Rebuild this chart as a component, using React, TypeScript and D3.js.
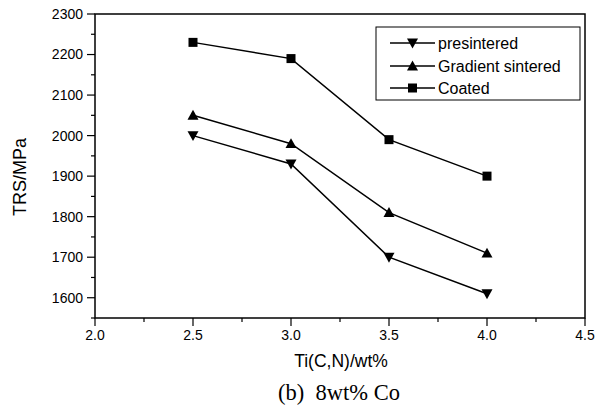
import React from 'react';
import * as d3 from 'd3';

const tiContent = [2.5, 3.0, 3.5, 4.0];
const presintered = [2000, 1930, 1700, 1610];
const gradientSintered = [2050, 1980, 1810, 1710];
const coated = [2230, 2190, 1990, 1900];
const xTicks = [2.0, 2.5, 3.0, 3.5, 4.0, 4.5];
const yTicks = [1600, 1700, 1800, 1900, 2000, 2100, 2200, 2300];

const series = [
    { name: 'presintered', values: presintered, marker: 'down' },
    { name: 'Gradient sintered', values: gradientSintered, marker: 'up' },
    { name: 'Coated', values: coated, marker: 'square' },
];

const width = 600;
const height = 408;
const margin = { top: 14, right: 10, bottom: 89, left: 95 };
const font = 'Arial, "Liberation Sans", sans-serif';

const Marker = ({ type, x, y }: { type: string; x: number; y: number }) => {
    if (type === 'square') {
        return <rect x={x - 4.5} y={y - 4.5} width={9} height={9} fill="#000" />;
    }
    const s = 5.5;
    const pts = type === 'up'
        ? [[x - s, y + s * 0.8], [x + s, y + s * 0.8], [x, y - s * 1.0]]
        : [[x - s, y - s * 0.8], [x + s, y - s * 0.8], [x, y + s * 1.0]];
    return <polygon points={pts.map(p => p.join(',')).join(' ')} fill="#000" />;
};

const App = () => {
    const x = d3.scaleLinear()
        .domain([2.0, 4.5])
        .range([margin.left, width - margin.right - 5]);
    const y = d3.scaleLinear()
        .domain([1550, 2300])
        .range([height - margin.bottom - 1, margin.top]);

    const line = d3.line<number>()
        .x((d, i) => x(tiContent[i]))
        .y(d => y(d));

    const x0 = x.range()[0], x1 = x.range()[1];
    const y0 = y.range()[0], y1 = y.range()[1];

    const xMinor = d3.range(2.0, 4.5001, 0.25);
    const yMinor = d3.range(1550, 2300.1, 50);

    const legendX = 376, legendY = 27;
    const rows = [43, 66, 88];

    return (
        <svg width={width} height={height} style={{ position: 'absolute', left: 0, top: 0, background: '#fff' }}>
            <rect x={0} y={0} width={width} height={height} fill="#fff" />
            {/* frame */}
            <rect x={x0} y={y1} width={x1 - x0} height={y0 - y1} fill="none" stroke="#000" strokeWidth={1.5} />

            {/* y ticks */}
            {yMinor.map(v => (
                <line key={'ym' + v} x1={x0} x2={x0 - (v % 100 === 0 ? 8 : 4)} y1={y(v)} y2={y(v)} stroke="#000" strokeWidth={1.2} />
            ))}
            {yTicks.map(v => (
                <text key={'yl' + v} x={x0 - 12} y={y(v)} dy="0.35em" textAnchor="end" fontFamily={font} fontSize={14}>{v}</text>
            ))}

            {/* x ticks */}
            {xMinor.map(v => {
                const major = Math.abs(v * 2 - Math.round(v * 2)) < 1e-6;
                return <line key={'xm' + v} x1={x(v)} x2={x(v)} y1={y0} y2={y0 + (major ? 8 : 4)} stroke="#000" strokeWidth={1.2} />;
            })}
            {xTicks.map(v => (
                <text key={'xl' + v} x={x(v)} y={y0 + 22} textAnchor="middle" fontFamily={font} fontSize={14}>{v.toFixed(1)}</text>
            ))}

            {/* axis titles */}
            <text x={341} y={367} textAnchor="middle" fontFamily={font} fontSize={17.5}>Ti(C,N)/wt%</text>
            <text transform={`translate(26,177) rotate(-90)`} textAnchor="middle" fontFamily={font} fontSize={18}>TRS/MPa</text>
            <text x={339} y={400} textAnchor="middle" fontFamily='"Liberation Serif", "Times New Roman", serif' fontSize={22.5} xmlSpace="preserve">(b)  8wt% Co</text>

            {/* series */}
            {series.map(s => (
                <g key={s.name}>
                    <path d={line(s.values) || ''} fill="none" stroke="#000" strokeWidth={1.5} />
                    {s.values.map((v, i) => (
                        <Marker key={i} type={s.marker} x={x(tiContent[i])} y={y(v)} />
                    ))}
                </g>
            ))}

            {/* legend */}
            <rect x={legendX} y={legendY} width={204} height={73} fill="#fff" stroke="#000" strokeWidth={1} />
            {series.map((s, i) => (
                <g key={'lg' + s.name}>
                    <line x1={390} x2={435} y1={rows[i]} y2={rows[i]} stroke="#000" strokeWidth={1.5} />
                    <Marker type={s.marker} x={412.5} y={rows[i]} />
                    <text x={438} y={rows[i]} dy="0.35em" fontFamily={font} fontSize={16}>{s.name}</text>
                </g>
            ))}
        </svg>
    );
};

export default App;
